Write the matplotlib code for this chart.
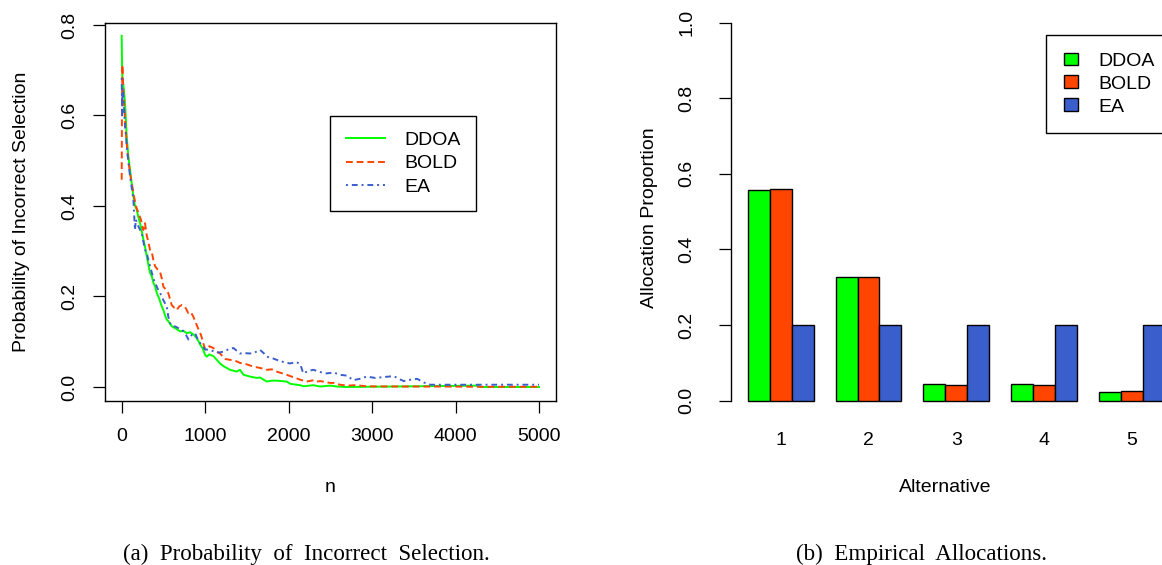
import matplotlib
matplotlib.use("Agg")
import matplotlib.pyplot as plt
from matplotlib.patches import Patch
from matplotlib.lines import Line2D

plt.rcParams['font.family'] = ['Liberation Sans', 'DejaVu Sans']

# (a) probability of incorrect selection
ddoa_n = [0, 5, 10, 25, 40, 60, 80, 100, 120, 140, 160, 180, 200, 220, 240, 260, 280,
          300, 320, 340, 360, 380, 400, 420, 450, 480, 500, 520, 540, 560, 600, 640,
          680, 700, 740, 780, 820, 860, 900, 940, 970, 1000, 1018, 1050, 1100, 1178,
          1220, 1298, 1378, 1417, 1460, 1537, 1620, 1657, 1737, 1800, 1857, 1977, 2020,
          2137, 2180, 2296, 2376, 2500, 2580, 2700, 4250, 4300, 5000]
ddoa_p = [0.776, 0.700, 0.683, 0.660, 0.628, 0.554, 0.510, 0.480, 0.450, 0.421, 0.400,
          0.392, 0.375, 0.362, 0.345, 0.326, 0.310, 0.289, 0.270, 0.252, 0.245, 0.230,
          0.222, 0.208, 0.195, 0.178, 0.170, 0.158, 0.149, 0.145, 0.134, 0.130, 0.125,
          0.123, 0.124, 0.119, 0.121, 0.116, 0.108, 0.094, 0.085, 0.071, 0.067, 0.072,
          0.068, 0.052, 0.046, 0.038, 0.034, 0.038, 0.027, 0.023, 0.020, 0.021, 0.012,
          0.014, 0.014, 0.012, 0.007, 0.004, 0.0015, 0.004, 0.001, 0.003, 0.001, 0.0,
          0.003, 0.0, 0.0]

bold_n = [0, 3, 8, 20, 40, 60, 80, 100, 120, 140, 170, 200, 230, 259, 279, 300, 319,
          339, 359, 379, 400, 419, 459, 480, 499, 530, 559, 599, 630, 659, 690, 719,
          759, 799, 830, 859, 899, 925, 950, 980, 1000, 1050, 1100, 1140, 1178, 1240,
          1298, 1360, 1420, 1457, 1500, 1577, 1660, 1737, 1800, 1857, 1977, 2020, 2097,
          2140, 2216, 2300, 2336, 2380, 2496, 2540, 2616, 2700, 2800, 2940, 3400, 3860,
          4300, 5000]
bold_p = [0.458, 0.600, 0.712, 0.650, 0.590, 0.539, 0.500, 0.473, 0.450, 0.429, 0.400,
          0.385, 0.370, 0.347, 0.362, 0.335, 0.321, 0.303, 0.300, 0.281, 0.267, 0.262,
          0.255, 0.240, 0.222, 0.215, 0.207, 0.181, 0.175, 0.170, 0.178, 0.181, 0.177,
          0.163, 0.165, 0.155, 0.137, 0.125, 0.115, 0.095, 0.083, 0.090, 0.086, 0.078,
          0.074, 0.062, 0.060, 0.058, 0.053, 0.052, 0.050, 0.045, 0.042, 0.038, 0.039,
          0.034, 0.027, 0.024, 0.019, 0.016, 0.012, 0.015, 0.012, 0.013, 0.009, 0.009,
          0.005, 0.003, 0.004, 0.0015, 0.001, 0.001, 0.0005, 0.0005]

ea_n = [0, 5, 10, 20, 40, 68, 100, 120, 140, 159, 170, 200, 240, 279, 300, 319, 340,
        379, 400, 439, 460, 499, 540, 559, 580, 619, 640, 679, 720, 759, 800, 839, 880,
        910, 940, 1000, 1058, 1100, 1160, 1218, 1298, 1340, 1417, 1460, 1537, 1580,
        1657, 1700, 1737, 1800, 1857, 1900, 2017, 2097, 2140, 2176, 2230, 2296, 2380,
        2456, 2540, 2616, 2700, 2775, 2850, 2935, 3040, 3140, 3260, 3320, 3380, 3460,
        3540, 3620, 3700, 5000]
ea_p = [0.683, 0.600, 0.660, 0.642, 0.576, 0.517, 0.466, 0.440, 0.414, 0.347, 0.370,
        0.355, 0.340, 0.303, 0.296, 0.281, 0.267, 0.240, 0.230, 0.214, 0.208, 0.192,
        0.178, 0.155, 0.141, 0.133, 0.134, 0.130, 0.127, 0.119, 0.105, 0.115, 0.119,
        0.105, 0.097, 0.083, 0.082, 0.079, 0.076, 0.078, 0.085, 0.086, 0.074, 0.075,
        0.074, 0.075, 0.082, 0.075, 0.067, 0.064, 0.060, 0.057, 0.052, 0.055, 0.050,
        0.030, 0.035, 0.038, 0.033, 0.030, 0.032, 0.027, 0.025, 0.015, 0.018, 0.023,
        0.020, 0.022, 0.024, 0.018, 0.013, 0.016, 0.018, 0.010, 0.005, 0.005]

# (b) empirical allocations
alternatives = ['1', '2', '3', '4', '5']
alloc_ddoa = [0.557, 0.327, 0.044, 0.045, 0.024]
alloc_bold = [0.560, 0.328, 0.042, 0.041, 0.025]
alloc_ea = [0.200, 0.200, 0.200, 0.200, 0.200]

methods = ['DDOA', 'BOLD', 'EA']
colors = ['#00FF00', '#FF4500', '#3A5FCD']

W, H = 1162, 565
fig = plt.figure(figsize=(W / 100, H / 100), dpi=100)


def px_axes(left, top, right, bottom):
    return fig.add_axes([left / W, 1 - bottom / H, (right - left) / W, (bottom - top) / H])


fs = 14
bold_dash = (3.5, 2)
ea_dash = (1, 2, 3, 2)

# ---- left panel
ax1 = px_axes(105, 22.7, 555.7, 400.7)
ax1.plot(ddoa_n, ddoa_p, color=colors[0], lw=1.4)
ax1.plot(bold_n, bold_p, color=colors[1], lw=1.4, dashes=bold_dash)
ax1.plot(ea_n, ea_p, color=colors[2], lw=1.4, dashes=ea_dash)
ax1.set_xlim(-200, 5200)
ax1.set_ylim(-0.0303, 0.805)
ax1.set_xticks([0, 1000, 2000, 3000, 4000, 5000])
ax1.set_yticks([0.0, 0.2, 0.4, 0.6, 0.8])
ax1.set_yticklabels(['0.0', '0.2', '0.4', '0.6', '0.8'], rotation=90, va='center')
ax1.tick_params(axis='both', direction='out', length=8.5, width=0.9, labelsize=fs)
ax1.tick_params(axis='x', pad=11)
ax1.tick_params(axis='y', pad=11)
for s in ax1.spines.values():
    s.set_linewidth(1.0)

h1 = [Line2D([], [], color=colors[0], lw=1.4),
      Line2D([], [], color=colors[1], lw=1.4, dashes=bold_dash),
      Line2D([], [], color=colors[2], lw=1.4, dashes=ea_dash)]
leg1 = ax1.legend(h1, methods, loc='upper left', bbox_to_anchor=(330.3 / W, 1 - 115.7 / H),
                  bbox_transform=fig.transFigure, fontsize=fs, fancybox=False,
                  edgecolor='black', framealpha=1, borderpad=0.8, borderaxespad=0,
                  handlelength=2.0, handletextpad=1.0, labelspacing=0.3)
leg1.get_frame().set_linewidth(1.0)

# ---- right panel
ax2 = px_axes(731, 7.6, 1181.7, 415.8)
for k, vals in enumerate([alloc_ddoa, alloc_bold, alloc_ea]):
    xs = [1 + 4 * g + k for g in range(len(alternatives))]
    ax2.bar(xs, vals, width=1, align='edge', color=colors[k], edgecolor='black', lw=1.0)
ax2.set_xlim(0.24, 20.76)
ax2.set_ylim(-0.04, 1.04)
ax2.set_xticks([2.5 + 4 * g for g in range(len(alternatives))])
ax2.set_xticklabels(alternatives)
ax2.set_yticks([0.0, 0.2, 0.4, 0.6, 0.8, 1.0])
ax2.set_yticklabels(['0.0', '0.2', '0.4', '0.6', '0.8', '1.0'], rotation=90, va='center')
ax2.tick_params(axis='x', length=0, pad=12, labelsize=fs)
ax2.tick_params(axis='y', direction='out', length=8.5, width=0.9, pad=17, labelsize=fs)
for side in ['top', 'right', 'bottom']:
    ax2.spines[side].set_visible(False)
ax2.spines['left'].set_bounds(0, 1)
ax2.spines['left'].set_linewidth(1.0)

h2 = [Patch(facecolor=c, edgecolor='black', lw=1.0) for c in colors]
leg2 = ax2.legend(h2, methods, loc='upper left', bbox_to_anchor=(1046 / W, 1 - 35 / H),
                  bbox_transform=fig.transFigure, fontsize=fs, fancybox=False,
                  edgecolor='black', framealpha=1, borderpad=0.9, borderaxespad=0,
                  handlelength=0.77, handleheight=0.62, handletextpad=1.0,
                  labelspacing=0.3)
leg2.get_frame().set_linewidth(1.0)

# axis titles and captions
fig.text(330 / W, 1 - 491.7 / H, 'n', ha='center', va='baseline', fontsize=fs)
fig.text(945 / W, 1 - 491.7 / H, 'Alternative', ha='center', va='baseline', fontsize=fs)
fig.text(21.7 / W, 1 - 211.7 / H, 'Probability of Incorrect Selection', rotation=90,
         ha='center', va='center', fontsize=fs)
fig.text(650 / W, 1 - 218 / H, 'Allocation Proportion', rotation=90,
         ha='center', va='center', fontsize=fs)
fig.text(306 / W, 1 - 560 / H, '(a)  Probability  of  Incorrect  Selection.',
         ha='center', va='baseline', fontsize=16.6, family='Liberation Serif')
fig.text(921.5 / W, 1 - 560 / H, '(b)  Empirical  Allocations.',
         ha='center', va='baseline', fontsize=16.6, family='Liberation Serif')

fig.savefig('out.png', dpi=100)
